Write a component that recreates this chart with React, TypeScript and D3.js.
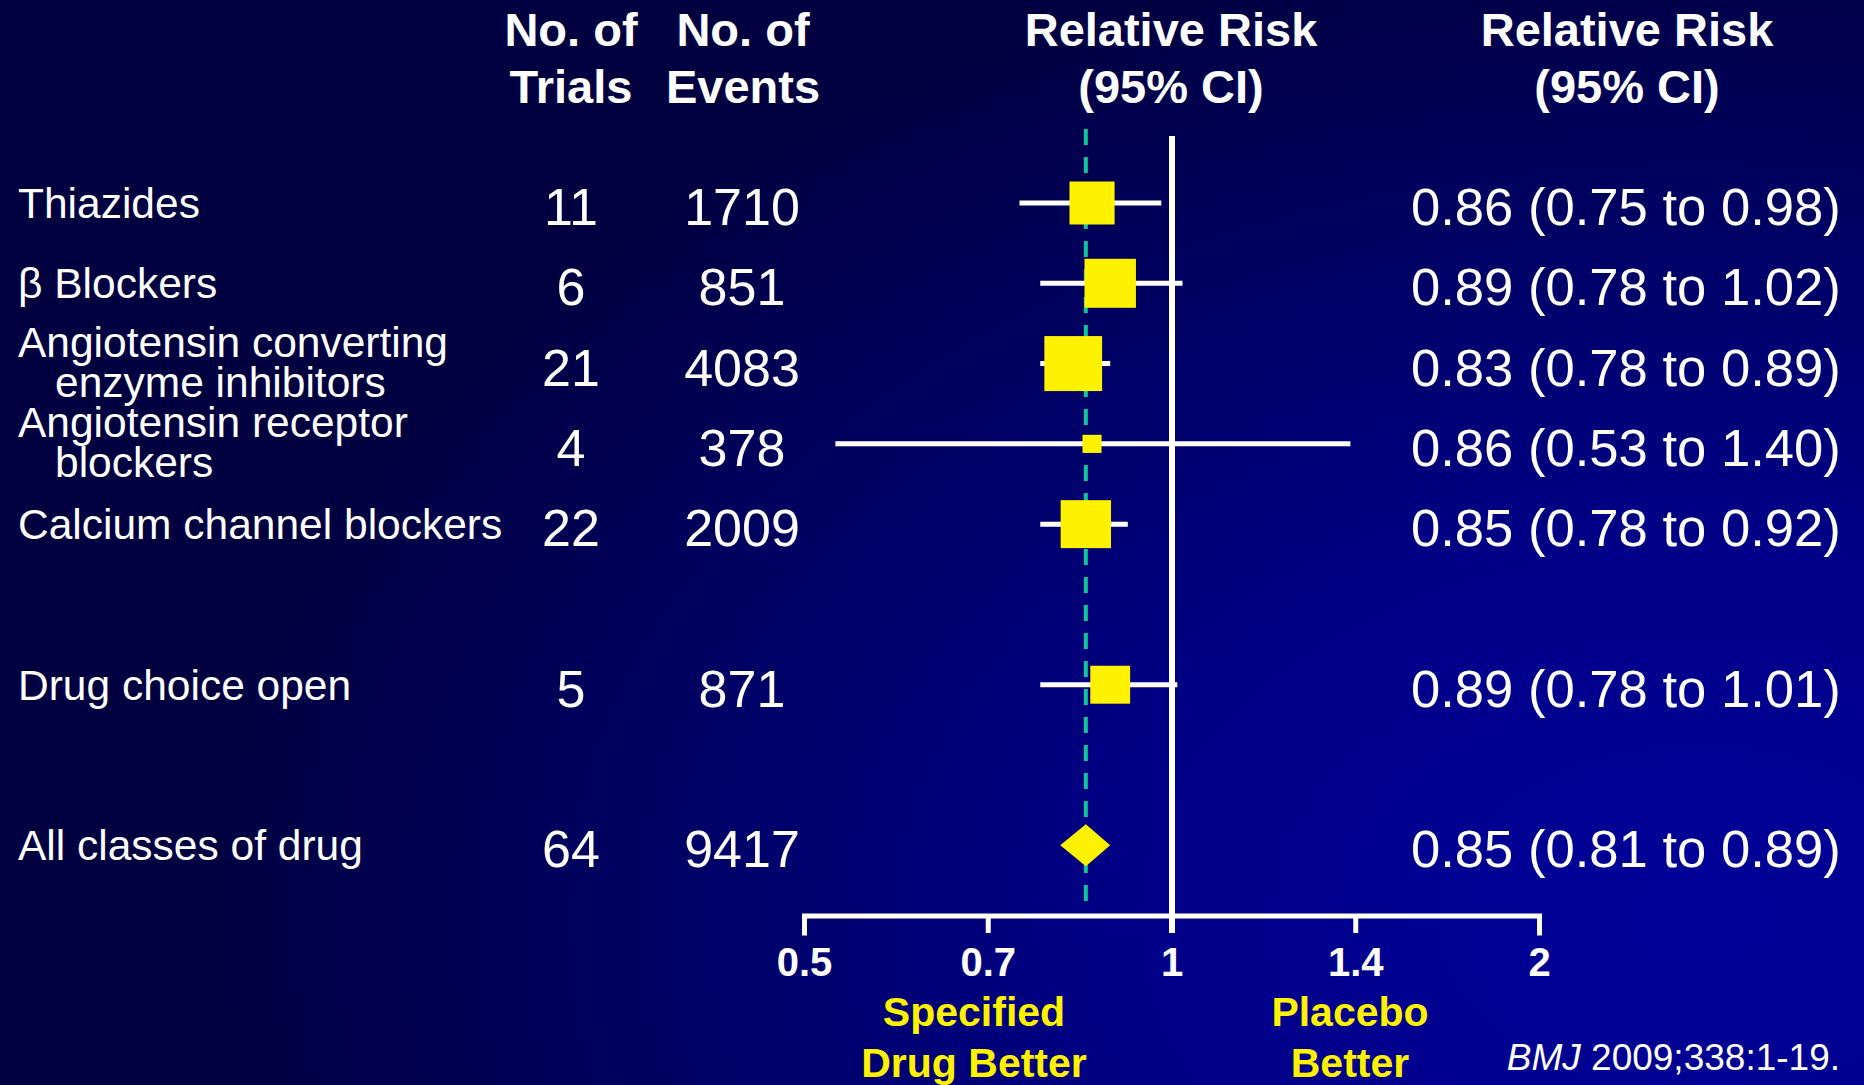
import React from "react";
import * as d3 from "d3";

// Forest plot: blood-pressure-lowering drug classes vs placebo (relative risk, log scale)
const rowLabels: string[][] = [
  ["Thiazides"],
  ["β Blockers"],
  ["Angiotensin converting", "enzyme inhibitors"],
  ["Angiotensin receptor", "blockers"],
  ["Calcium channel blockers"],
  ["Drug choice open"],
  ["All classes of drug"],
];
const trialCounts = [11, 6, 21, 4, 22, 5, 64];
const eventCounts = [1710, 851, 4083, 378, 2009, 871, 9417];
const relativeRisk = [0.86, 0.89, 0.83, 0.86, 0.85, 0.89, 0.85];
const ciLower = [0.75, 0.78, 0.78, 0.53, 0.78, 0.78, 0.81];
const ciUpper = [0.98, 1.02, 0.89, 1.4, 0.92, 1.01, 0.89];
// relative weight of each study box (pooled row is drawn as a diamond)
const boxWeight = [16.3, 21.2, 26.7, 2.9, 20.3, 12.7];
// rows are shown in groups separated by a blank line
const rowGroups = [[0, 1, 2, 3, 4], [5], [6]];
const pooledRow = 6;
const pooledRisk = 0.85;

const tickValues = [0.5, Math.SQRT1_2, 1, Math.SQRT2, 2];
const tickLabels = ["0.5", "0.7", "1", "1.4", "2"];

const W = 1864;
const H = 1085;
const FONT = "'Liberation Sans', Arial, Helvetica, sans-serif";
const YELLOW = "#fff200";

export default function App() {
  const x = d3.scaleLog().domain([0.5, 2]).range([804.5, 1539.5]);

  const slotKeys: string[] = [];
  rowGroups.forEach((g, gi) => {
    if (gi > 0) slotKeys.push(`gap-${gi}`);
    g.forEach((r) => slotKeys.push(`row-${r}`));
  });
  const y = d3.scalePoint<string>().domain(slotKeys).range([203, 845.3]);
  const rowY = (i: number) => y(`row-${i}`) as number;

  const boxSide = d3
    .scaleSqrt()
    .domain([0, d3.max(boxWeight) as number])
    .range([0, 55]);

  const fmt = d3.format(".2f");
  const axisY = 916;
  const tickLen = 17;

  return (
    <svg
      width={W}
      height={H}
      viewBox={`0 0 ${W} ${H}`}
      style={{ position: "absolute", left: 0, top: 0, display: "block" }}
      fontFamily={FONT}
    >
      <defs>
        <radialGradient
          id="bg"
          gradientUnits="userSpaceOnUse"
          cx={1700}
          cy={920}
          r={1500}
          gradientTransform="translate(1700,920) scale(1,0.667) translate(-1700,-920)"
        >
          <stop offset="0" stopColor="#000098" />
          <stop offset="0.37" stopColor="#000088" />
          <stop offset="0.6" stopColor="#00006e" />
          <stop offset="0.9" stopColor="#00004c" />
          <stop offset="1" stopColor="#000040" />
        </radialGradient>
      </defs>
      <rect x={0} y={0} width={W} height={H} fill="url(#bg)" />

      {/* column headers */}
      <g fill="#fff" fontWeight="bold" fontSize={47} textAnchor="middle">
        <text x={571} y={46}>No. of</text>
        <text x={571} y={103}>Trials</text>
        <text x={743} y={46}>No. of</text>
        <text x={743} y={103}>Events</text>
        <text x={1171} y={46}>Relative Risk</text>
        <text x={1171} y={103}>(95% CI)</text>
        <text x={1627} y={46}>Relative Risk</text>
        <text x={1627} y={103}>(95% CI)</text>
      </g>

      {/* row labels */}
      <g fill="#fff" fontSize={42.5}>
        {rowLabels.map((lines, i) =>
          lines.length === 1 ? (
            <text key={i} x={18} y={rowY(i) + 15}>{lines[0]}</text>
          ) : (
            <g key={i}>
              <text x={18} y={rowY(i) - 7}>{lines[0]}</text>
              <text x={55} y={rowY(i) + 33}>{lines[1]}</text>
            </g>
          )
        )}
      </g>

      {/* counts */}
      <g fill="#fff" fontSize={52} textAnchor="middle">
        {trialCounts.map((v, i) => (
          <text key={`t${i}`} x={571} y={rowY(i) + 22}>{v}</text>
        ))}
        {eventCounts.map((v, i) => (
          <text key={`e${i}`} x={742} y={rowY(i) + 22}>{v}</text>
        ))}
      </g>

      {/* relative risk text column */}
      <g fill="#fff" fontSize={52.6}>
        {relativeRisk.map((v, i) => (
          <text key={i} x={1411} y={rowY(i) + 22}>
            {`${fmt(v)} (${fmt(ciLower[i])} to ${fmt(ciUpper[i])})`}
          </text>
        ))}
      </g>

      {/* pooled estimate reference (dashed) */}
      <line
        x1={x(pooledRisk)}
        x2={x(pooledRisk)}
        y1={129}
        y2={901}
        stroke="#12c49a"
        strokeWidth={4}
        strokeDasharray="16 12"
      />

      {/* confidence intervals */}
      <g stroke="#fff" strokeWidth={5}>
        {relativeRisk.map((_, i) =>
          i === pooledRow ? null : (
            <line key={i} x1={x(ciLower[i])} x2={x(ciUpper[i])} y1={rowY(i)} y2={rowY(i)} />
          )
        )}
      </g>

      {/* line of no effect */}
      <line x1={x(1)} x2={x(1)} y1={136} y2={axisY + tickLen} stroke="#fff" strokeWidth={6} />

      {/* study boxes */}
      <g fill={YELLOW}>
        {boxWeight.map((w, i) => {
          const h = boxSide(w);
          const bw = h * 1.05;
          return (
            <rect key={i} x={x(relativeRisk[i]) - bw / 2} y={rowY(i) - h / 2} width={bw} height={h} />
          );
        })}
        {/* pooled diamond */}
        <path
          d={`M${x(ciLower[pooledRow])},${rowY(pooledRow)} L${x(relativeRisk[pooledRow])},${rowY(pooledRow) - 21} L${x(ciUpper[pooledRow])},${rowY(pooledRow)} L${x(relativeRisk[pooledRow])},${rowY(pooledRow) + 21} Z`}
        />
      </g>

      {/* x axis */}
      <g stroke="#fff" strokeWidth={5} fill="none">
        <path
          d={`M${x(0.5)},${axisY + tickLen} V${axisY} H${x(2)} V${axisY + tickLen}`}
          strokeLinejoin="miter"
          strokeLinecap="square"
        />
        {tickValues.slice(1, -1).map((t, i) => (
          <line key={i} x1={x(t)} x2={x(t)} y1={axisY} y2={axisY + tickLen} />
        ))}
      </g>
      <g fill="#fff" fontSize={40} fontWeight="bold" textAnchor="middle">
        {tickValues.map((t, i) => (
          <text key={i} x={x(t)} y={976}>{tickLabels[i]}</text>
        ))}
      </g>

      {/* direction annotations */}
      <g fill={YELLOW} fontSize={41} fontWeight="bold" textAnchor="middle">
        <text x={974} y={1026}>Specified</text>
        <text x={974} y={1077}>Drug Better</text>
        <text x={1350} y={1026}>Placebo</text>
        <text x={1350} y={1077}>Better</text>
      </g>

      {/* source */}
      <text x={1840} y={1070} fill="#fff" fontSize={37} textAnchor="end">
        <tspan fontStyle="italic">BMJ</tspan>
        <tspan> 2009;338:1-19.</tspan>
      </text>
    </svg>
  );
}
